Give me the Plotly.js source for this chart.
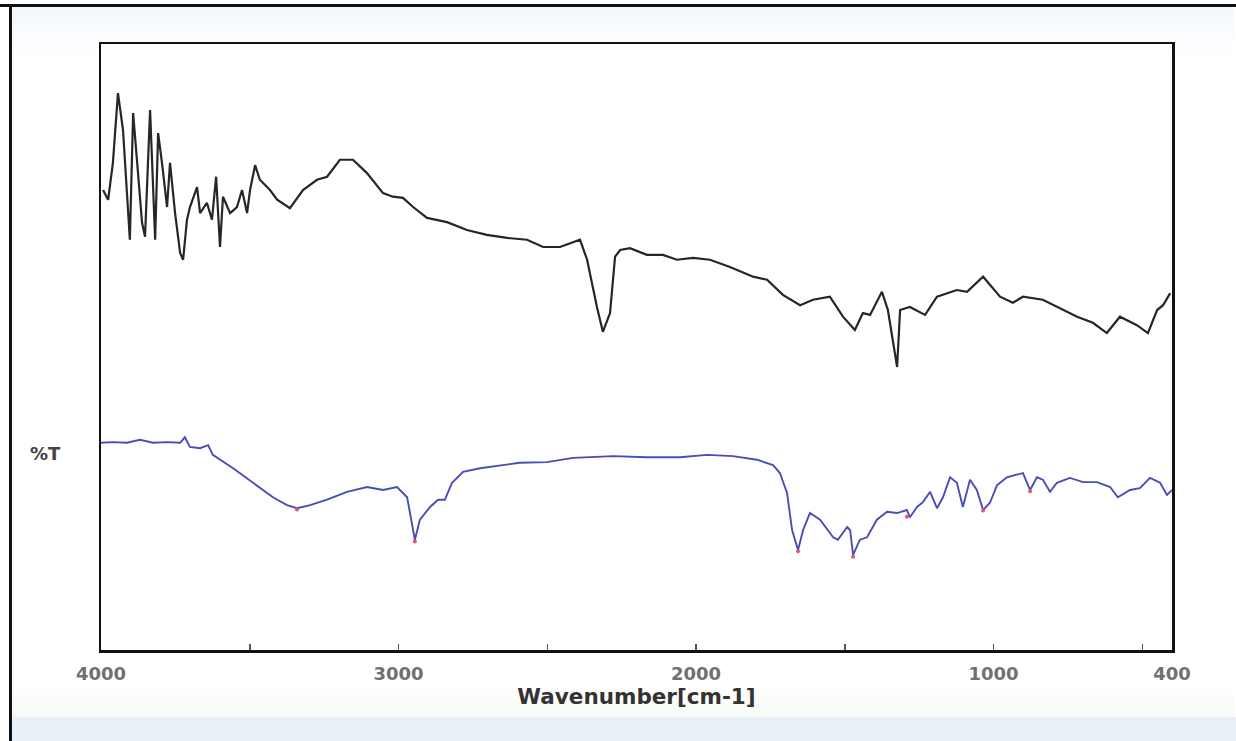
<!DOCTYPE html>
<html>
<head>
<meta charset="utf-8">
<script src="https://cdn.plot.ly/plotly-3.0.1.min.js"></script>
<style>
  html, body { margin: 0; padding: 0; background: #ffffff; }
  #wrap { position: relative; width: 1236px; height: 741px; overflow: hidden; background: #ffffff; }
  #frameTop { position: absolute; left: 0; top: 4px; width: 1236px; height: 3px; background: #111; }
  #frameLeft { position: absolute; left: 9px; top: 4px; width: 3px; height: 741px; background: #111; }
  #inner { position: absolute; left: 12px; top: 7px; width: 1222px; height: 710px;
           background: linear-gradient(180deg, #f3f7fb 0px, #fbfdff 30px, #ffffff 60px, #ffffff 680px, #f7faf4 710px); }
  #bottomBand { position: absolute; left: 12px; top: 717px; width: 1224px; height: 24px; background: #e9f1f8; }
  #chart { position: absolute; left: 0; top: 0; width: 1236px; height: 741px; }
</style>
</head>
<body>
<div id="wrap">
  <div id="inner"></div>
  <div id="bottomBand"></div>
  <div id="frameTop"></div>
  <div id="frameLeft"></div>
  <div id="chart"></div>
</div>
<script>
// Upper (black) spectrum: wavenumber [cm-1] and relative %T
const blackWn = [3993,3976,3960,3943,3926,3903,3892,3879,3862,3852,3835,3818,3808,3795,3778,3768,3751,3734,3724,3711,3701,3677,3667,3644,3627,3613,3600,3590,3566,3543,3526,3509,3499,3482,3466,3432,3408,3365,3321,3274,3240,3197,3153,3106,3052,3019,2985,2951,2904,2837,2770,2703,2635,2568,2514,2457,2390,2366,2333,2313,2289,2272,2255,2222,2165,2111,2064,2010,1953,1886,1808,1761,1708,1650,1607,1550,1506,1466,1439,1415,1375,1355,1324,1314,1281,1230,1190,1123,1089,1035,978,935,901,834,787,719,666,619,575,518,481,450,430,406];
const blackT = [75.9,74.3,80.4,91.9,85.8,67.7,88.6,80.4,70.5,68.2,89.1,67.7,85.3,80.4,73.1,80.4,72.1,65.5,64.4,71.0,73.1,76.4,72.1,73.8,71.0,78.1,66.5,74.8,72.1,73.1,75.9,72.1,75.9,80.0,77.6,75.9,74.3,72.9,75.9,77.6,78.1,80.9,80.9,78.7,75.4,74.8,74.6,73.1,71.3,70.6,69.3,68.5,68.0,67.7,66.5,66.5,67.7,64.4,56.6,52.5,55.6,64.9,66.0,66.3,65.2,65.2,64.4,64.7,64.4,63.2,61.6,61.1,58.6,56.9,57.8,58.3,55.0,52.8,55.6,55.3,59.1,56.1,46.7,56.1,56.6,55.3,58.3,59.4,59.1,61.6,58.3,57.3,58.3,57.8,56.6,55.0,54.0,52.3,55.0,53.6,52.3,56.1,56.9,58.9];

// Lower (blue) spectrum
const blueWn = [4000,3960,3913,3869,3825,3778,3734,3718,3701,3667,3640,3624,3556,3489,3422,3375,3341,3297,3240,3173,3106,3052,3005,2971,2945,2928,2894,2867,2844,2820,2783,2726,2669,2592,2501,2413,2279,2165,2054,1963,1876,1795,1741,1718,1694,1677,1657,1640,1617,1583,1539,1523,1492,1482,1472,1449,1425,1392,1358,1324,1291,1281,1257,1237,1213,1190,1170,1146,1123,1103,1079,1056,1035,1012,988,955,901,877,854,834,810,787,743,699,652,608,582,541,508,474,440,417,400];
const blueT = [34.2,34.3,34.2,34.7,34.2,34.3,34.2,35.1,33.5,33.3,33.8,32.2,30.0,27.6,25.2,23.9,23.4,23.9,24.8,26.1,26.9,26.4,26.9,25.2,18.2,21.5,23.6,24.8,24.8,27.6,29.4,30.0,30.4,30.9,31.0,31.7,32.0,31.8,31.8,32.2,32.0,31.4,30.5,29.2,25.9,19.8,16.5,19.8,22.6,21.5,18.6,18.2,20.3,19.8,15.7,18.2,18.6,21.5,22.8,22.6,23.1,21.9,23.6,24.4,26.1,23.4,25.2,28.5,27.6,23.6,28.1,26.4,23.1,24.3,27.2,28.5,29.2,26.4,28.5,28.1,26.1,27.6,28.4,27.7,27.7,26.9,25.2,26.4,26.7,28.4,27.6,25.6,26.4];

// Peak picks on the lower spectrum
const peakWn = [3341,2945,1657,1472,1291,1035,877];
const peakT  = [23.2,17.9,16.3,15.4,22.0,23.0,26.2];

// Axis ticks
const tickVals = [4000,3500,3000,2500,2000,1500,1000,500,400];
const tickText = ['4000','','3000','','2000','','1000','','400'];

const traces = [
  { x: blackWn, y: blackT, type: 'scatter', mode: 'lines',
    line: { color: '#262626', width: 2.2 }, hoverinfo: 'skip', showlegend: false },
  { x: blueWn, y: blueT, type: 'scatter', mode: 'lines',
    line: { color: '#4a4db5', width: 1.9 }, hoverinfo: 'skip', showlegend: false },
  { x: peakWn, y: peakT, type: 'scatter', mode: 'markers',
    marker: { color: '#e2566e', size: 4, symbol: 'circle' }, hoverinfo: 'skip', showlegend: false }
];

const layout = {
  width: 1236, height: 741,
  margin: { l: 101, r: 64, t: 44, b: 91 },
  paper_bgcolor: 'rgba(0,0,0,0)',
  plot_bgcolor: '#ffffff',
  xaxis: {
    range: [4000, 400], autorange: false,
    tickvals: tickVals, ticktext: tickText,
    ticks: 'inside', ticklen: 6, tickwidth: 1.5, tickcolor: '#555',
    ticklabelstandoff: 6,
    showgrid: false, zeroline: false,
    showline: true, mirror: true, linecolor: '#111', linewidth: 2.5,
    tickfont: { family: 'DejaVu Sans', size: 18, color: '#707070', weight: 'bold' },
    title: { text: 'Wavenumber[cm-1]', standoff: 2,
             font: { family: 'DejaVu Sans', size: 21.5, color: '#333333', weight: 'bold' } }
  },
  yaxis: {
    range: [0, 100], autorange: false,
    showticklabels: false, ticks: '', showgrid: false, zeroline: false,
    showline: true, mirror: true, linecolor: '#111', linewidth: 2.5
  },
  annotations: [
    { text: '%T', xref: 'paper', yref: 'paper', x: -0.052, y: 0.325,
      xanchor: 'center', yanchor: 'middle', showarrow: false,
      font: { family: 'DejaVu Sans', size: 18, color: '#444444', weight: 'bold' } }
  ]
};

Plotly.newPlot('chart', traces, layout, { staticPlot: true, displayModeBar: false });
</script>
</body>
</html>
